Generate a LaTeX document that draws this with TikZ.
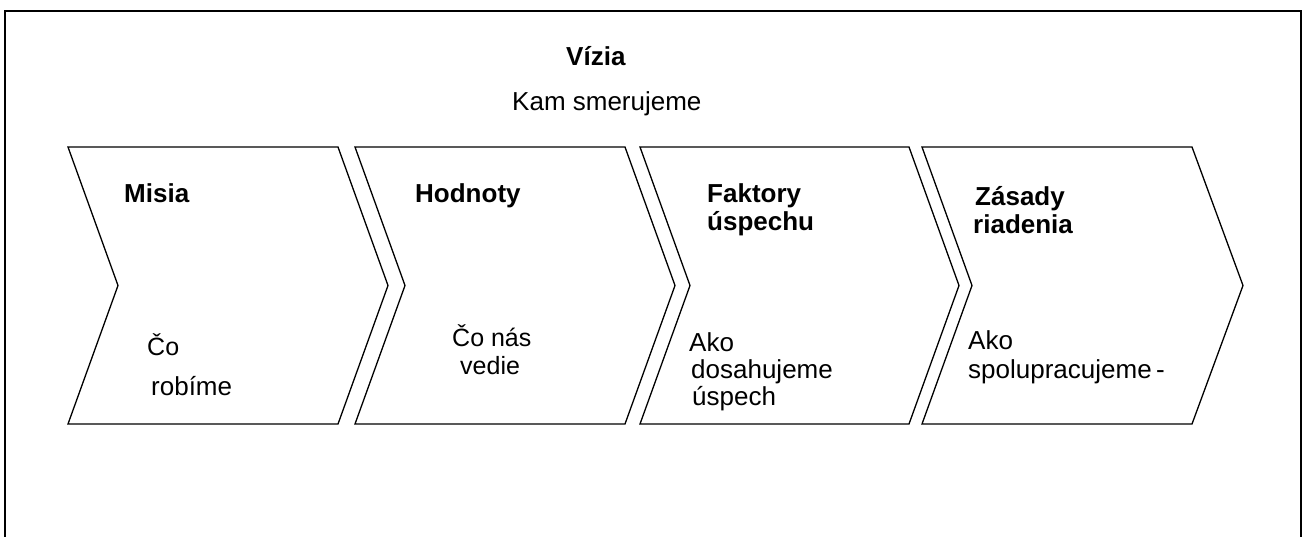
\documentclass[tikz,border=0pt]{standalone}
\usepackage{fontspec}
\setmainfont{Liberation Sans}
\begin{document}
\begin{tikzpicture}[x=1pt,y=-1pt,
  chev/.style={draw=black,line width=1.3pt,line join=miter},
  frameline/.style={draw=black,line width=2pt},
  ttl/.style={anchor=base west,inner sep=0pt,font=\fontsize{26}{30}\selectfont\bfseries},
  txt/.style={anchor=base west,inner sep=0pt,font=\fontsize{26}{30}\selectfont},
  stxt/.style={anchor=base west,inner sep=0pt,font=\fontsize{25}{29}\selectfont}]
\useasboundingbox (0,0) rectangle (1304,536);
% frame
\draw[frameline] (5,537) -- (5,11) -- (1301,11) -- (1301,537);
% chevrons
\draw[chev] (68,147) -- (338,147) -- (388,285.5) -- (338,424) -- (68,424) -- (118,285.5) -- cycle;
\draw[chev] (355,147) -- (625,147) -- (675,285.5) -- (625,424) -- (355,424) -- (405,285.5) -- cycle;
\draw[chev] (640,147) -- (909,147) -- (959,285.5) -- (909,424) -- (640,424) -- (690,285.5) -- cycle;
\draw[chev] (922,147) -- (1192,147) -- (1243,285.5) -- (1192,424) -- (922,424) -- (972,285.5) -- cycle;
% title
\node[ttl] (vizia) at (566,65) {Vízia};
\node[txt] (kam) at (512,110) {Kam smerujeme};
% chevron 1
\node[ttl] (misia) at (124,202) {Misia};
\node[stxt] (co1) at (147,355) {Čo};
\node[txt] (robime) at (151,395) {robíme};
% chevron 2
\node[stxt] (hodnoty) at (415,202) {\bfseries\fontsize{26}{30}\selectfont Hodnoty};
\node[stxt] (conas) at (452,346) {Čo nás};
\node[stxt] (vedie) at (460,374) {vedie};
% chevron 3
\node[ttl] (faktory) at (707,202) {Faktory};
\node[ttl] (uspechu) at (707,230) {úspechu};
\node[txt] (ako3) at (689,351) {Ako};
\node[txt] (dosah) at (691,378) {dosahujeme};
\node[txt] (uspech) at (692,405) {úspech};
% chevron 4
\node[ttl] (zasady) at (975,205) {Zásady};
\node[ttl] (riadenia) at (973,233) {riadenia};
\node[txt] (ako4) at (968,349) {Ako};
\node[txt] (spolu) at (968,378) {spolupracujeme\,-};
\end{tikzpicture}
\end{document}
